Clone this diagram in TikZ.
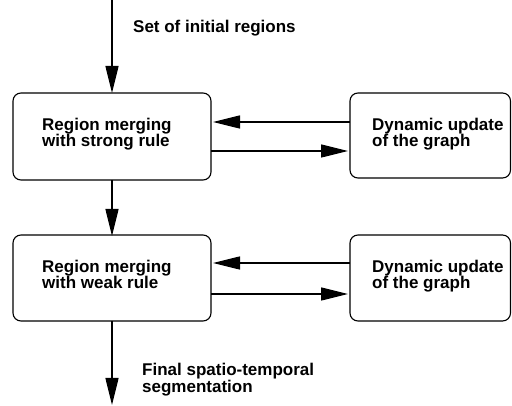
\documentclass[tikz,border=0pt]{standalone}
\usepackage{fontspec}
\setmainfont{Liberation Sans}
\usetikzlibrary{arrows.meta}
\begin{document}
\begin{tikzpicture}[x=1pt,y=-1pt,
  procbox/.style={draw, line width=1.1pt, rounded corners=8pt},
  flow/.style={line width=1.3pt, -{Triangle[length=27pt,width=13pt]}},
  lbl/.style={anchor=base west, align=left, inner sep=0pt,
    font=\bfseries\fontsize{17}{16.5}\selectfont}]
  \useasboundingbox (0,0) rectangle (512,406);

  % processing boxes
  \draw[procbox] (13,93) rectangle (211,180);
  \draw[procbox] (350,93) rectangle (510.5,178);
  \draw[procbox] (13,235) rectangle (211,321);
  \draw[procbox] (350,235) rectangle (510.5,321);
  \coordinate (b1) at (112,93);
  \coordinate (b1s) at (112,180);
  \coordinate (b3) at (112,235);
  \coordinate (b3s) at (112,321);

  % labels (anchored at the baseline of the last line)
  \node[lbl] (strong) at (42,147) {Region merging\\with strong rule};
  \node[lbl] (upd1) at (372,147) {Dynamic update\\of the graph};
  \node[lbl] (weak) at (42,289) {Region merging\\with weak rule};
  \node[lbl] (upd2) at (372,289) {Dynamic update\\of the graph};
  \node[lbl] (init) at (133,33) {Set of initial regions};
  \node[lbl] (final) at (142,392) {Final spatio-temporal\\segmentation};

  % connector ends
  \coordinate (top) at (112,0);
  \coordinate (bot) at (112,405);
  \coordinate (r1a) at (350,122);
  \coordinate (l1a) at (213,122);
  \coordinate (l1b) at (211,151);
  \coordinate (r1b) at (348,151);
  \coordinate (r2a) at (350,263);
  \coordinate (l2a) at (213,263);
  \coordinate (l2b) at (211,294);
  \coordinate (r2b) at (348,294);

  % vertical flow
  \draw[flow] (top) -- (b1);
  \draw[flow] (b1s) -- ([yshift=-1pt]b3);
  \draw[flow] (b3s) -- (bot);

  % feedback with the graph update
  \draw[flow] (r1a) -- (l1a);
  \draw[flow] (l1b) -- (r1b);
  \draw[flow] (r2a) -- (l2a);
  \draw[flow] (l2b) -- (r2b);
\end{tikzpicture}
\end{document}
